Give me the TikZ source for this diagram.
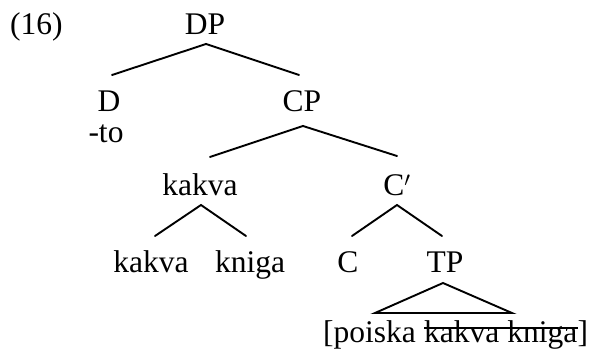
\documentclass[tikz,border=0pt]{standalone}
\usepackage{fontspec}
\setmainfont{Liberation Serif}
\begin{document}
\begin{tikzpicture}[x=1pt,y=-1pt,
  lab/.style={inner sep=0pt,anchor=base,font=\fontsize{31.5}{36}\selectfont},
  branch/.style={line width=1.9pt,line cap=round,line join=miter}]
\useasboundingbox (0,0) rectangle (590,358);
% example number
\node[lab,anchor=base west] (ex) at (10,35) {(16)};
% node labels
\node[lab] (dp) at (205,35) {DP};
\node[lab] (d) at (109,112) {D};
\node[lab] (to) at (106,143) {-to};
\node[lab] (cp) at (302,112) {CP};
\node[lab] (spec) at (200,196) {kakva};
\node[lab] (cbar) at (397,196) {C$'$};
\node[lab] (kakva) at (151,273) {kakva};
\node[lab] (kniga) at (250,273) {kniga};
\node[lab] (c) at (348,273) {C};
\node[lab] (tp) at (445,273) {TP};
% terminal string under TP
\node[lab,anchor=base west] (tpa) at (323,343) {[poiska};
\node[lab,anchor=base west,xshift=7.9pt] (tpb) at (tpa.base east) {kakva kniga};
\node[lab,anchor=base west] (tpc) at (tpb.base east) {]};
\draw[line width=1.9pt] ([yshift=15pt]tpb.base west) -- ([yshift=15pt]tpb.base east);
% branch end points
\coordinate (dp-b) at (206,44);
\coordinate (d-t) at (112,75);
\coordinate (cp-t) at (299,75);
\coordinate (cp-b) at (303,126);
\coordinate (spec-t) at (210,157);
\coordinate (cbar-t) at (397,156);
\coordinate (spec-b) at (201,205);
\coordinate (kakva-t) at (155,236);
\coordinate (kniga-t) at (246,236);
\coordinate (cbar-b) at (397,205);
\coordinate (c-t) at (352,236);
\coordinate (tp-t) at (442,236);
\coordinate (tp-b) at (443,283);
\coordinate (tri-l) at (375,313);
\coordinate (tri-r) at (512,313);
% branches
\draw[branch] (d-t) -- (dp-b) -- (cp-t);
\draw[branch] (spec-t) -- (cp-b) -- (cbar-t);
\draw[branch] (kakva-t) -- (spec-b) -- (kniga-t);
\draw[branch] (c-t) -- (cbar-b) -- (tp-t);
\draw[branch] (tp-b) -- (tri-l) -- (tri-r) -- cycle;
\end{tikzpicture}
\end{document}
